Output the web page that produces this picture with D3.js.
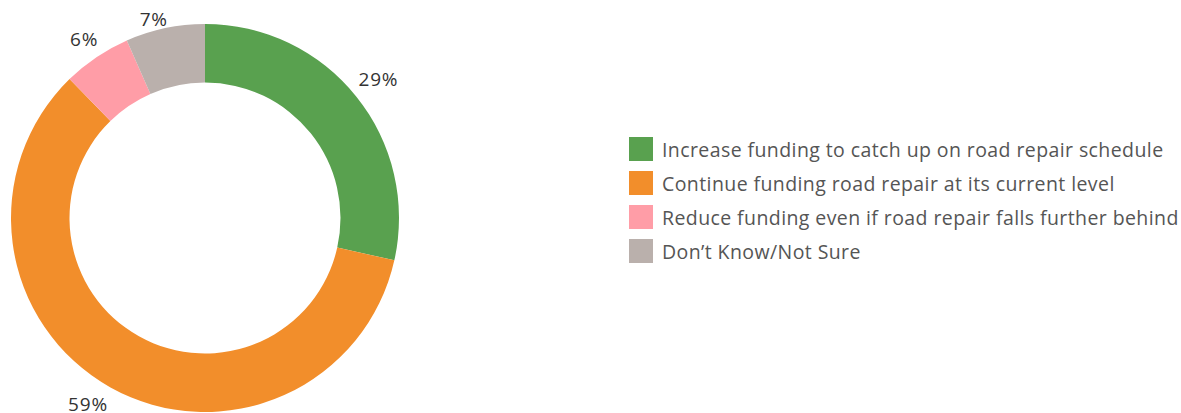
<!DOCTYPE html>
<html><head><meta charset="utf-8">
<script src="https://cdn.jsdelivr.net/npm/d3@7"></script>
<style>html,body{margin:0;padding:0;background:#fff;}svg{display:block;}</style>
</head><body>
<svg id="chart" width="1181" height="413"></svg>
<script>
const categories = [
  "Increase funding to catch up on road repair schedule",
  "Continue funding road repair at its current level",
  "Reduce funding even if road repair falls further behind",
  "Don\u2019t Know/Not Sure"
];
const values = [28.5, 59.2, 5.7, 6.6];
const labels = ["29%", "59%", "6%", "7%"];
const colors = ["#59A14F", "#F28E2B", "#FF9DA7", "#BAB0AC"];

const svg = d3.select("#chart");
const W = 1181, H = 413;
const cx = 205, cy = 218, rOuter = 194, rInner = 135.5;
const font = "'Open Sans', 'Noto Sans', sans-serif";

const data = categories.map((c, i) => ({cat: c, value: values[i], label: labels[i], color: colors[i]}));
const pie = d3.pie().value(d => d.value).sort(null);
const arcs = pie(data);
const arc = d3.arc().innerRadius(rInner).outerRadius(rOuter);

const g = svg.append("g").attr("transform", `translate(${cx},${cy})`);
g.selectAll("path").data(arcs).join("path")
  .attr("d", arc)
  .attr("fill", d => d.data.color);

// outside labels: cap-height box touching circle along mid-angle, kept inside the view
const fs = 19, capH = 0.714 * fs, hh = capH / 2, pad = 8.5;
g.selectAll("text.lbl").data(arcs).join("text")
  .attr("class", "lbl")
  .attr("font-family", font)
  .attr("font-size", fs)
  .attr("letter-spacing", 0.8)
  .attr("fill", "#333")
  .attr("text-anchor", "middle")
  .text(d => d.data.label)
  .each(function(d) {
    const a = (d.startAngle + d.endAngle) / 2;
    const hw = this.getComputedTextLength() / 2;
    const s = Math.sin(a), c = Math.cos(a);
    const dist = rOuter + pad + Math.abs(s) * hw + Math.abs(c) * hh;
    let x = s * dist, y = -c * dist;
    const yMax = H - 2 - cy - hh, yMin = -cy + 12 + hh;
    if (y > yMax) {
      y = yMax;
      const edgeY = y - hh;
      const ex = Math.sqrt(Math.max(0, (rOuter + pad + 1.5) ** 2 - edgeY ** 2));
      x = Math.sign(s) * (ex + hw);
    } else if (y < yMin) {
      y = yMin;
      const edgeY = y + hh;
      const ex = Math.sqrt(Math.max(0, (rOuter + 2) ** 2 - edgeY ** 2));
      x = Math.sign(s) * (ex + hw);
    }
    d3.select(this).attr("x", x).attr("y", y + hh);
  });

// legend
const lx = 629, ly = 137, step = 34, sz = 24;
const legend = svg.append("g");
const rows = legend.selectAll("g").data(data).join("g")
  .attr("transform", (d, i) => `translate(${lx},${ly + i * step})`);
rows.append("rect").attr("width", sz).attr("height", sz).attr("fill", d => d.color);
rows.append("text")
  .attr("x", 33).attr("y", 20.3)
  .attr("font-family", font)
  .attr("font-size", 19.5)
  .attr("letter-spacing", 0.41)
  .attr("fill", "#555")
  .text(d => d.cat);
</script>
</body></html>
